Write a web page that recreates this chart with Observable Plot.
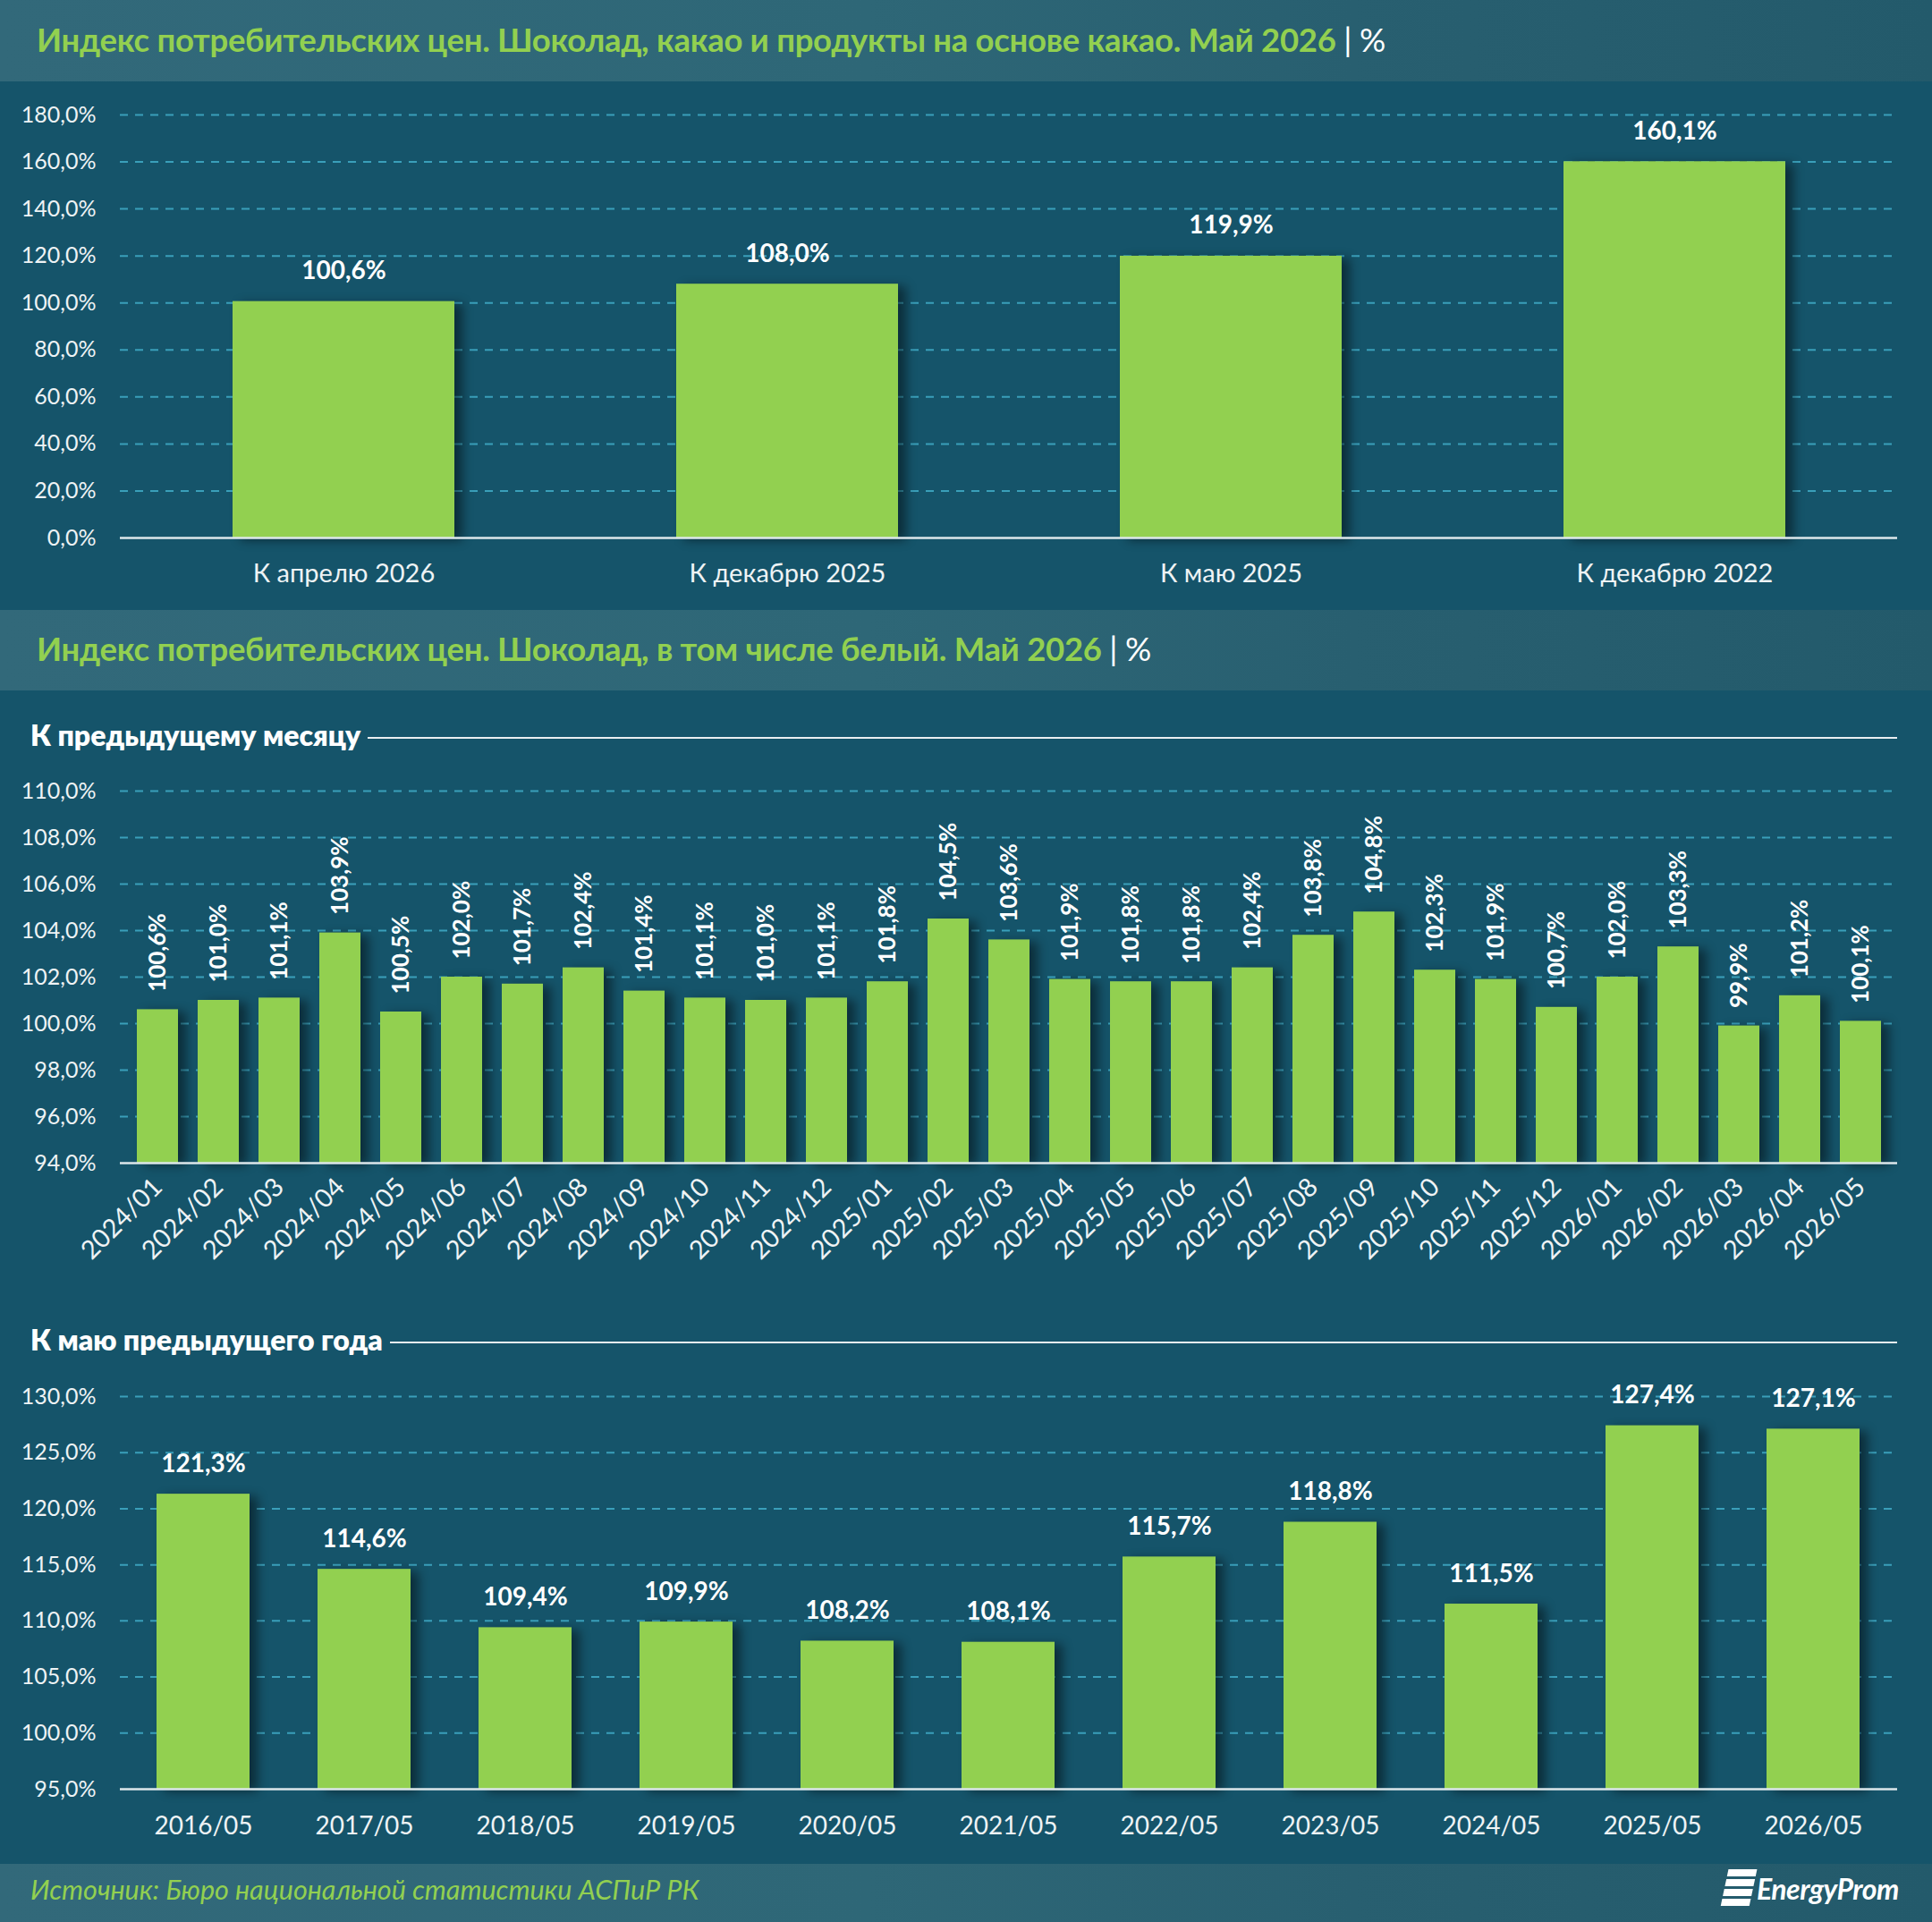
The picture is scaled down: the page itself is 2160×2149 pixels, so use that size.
<!DOCTYPE html>
<html>
<head>
<meta charset="utf-8">
<script src="https://cdn.jsdelivr.net/npm/d3@7"></script>
<script src="https://cdn.jsdelivr.net/npm/@observablehq/plot@0.6"></script>
<style>
  html, body { margin: 0; padding: 0; background: #15546a; }
  #root { position: relative; width: 2160px; height: 2149px; overflow: hidden; background: #15546a; font-family: Lato, "Open Sans", sans-serif; }
  .bar { position: absolute; left: 0; width: 2160px; background: linear-gradient(to right, #32697a 0%, #2e6777 45%, #285f70 70%, #235a6b 100%); }
  .title { position: absolute; left: 41px; font-size: 36.5px; color: #92d050; font-weight: 700; white-space: nowrap; letter-spacing: -0.3px; }
  .title .unit { color: #ffffff; font-weight: 400; }
  .sub { position: absolute; left: 34px; width: 2087px; display: flex; align-items: center; font-size: 32px; font-weight: 800; color: #ffffff; }
  .sub .ln { flex: 1; height: 2px; background: #e8eef0; margin-left: 8px; margin-top: 6px; }
  .chart { position: absolute; left: 0; }
  svg g[aria-label="bar"] { filter: drop-shadow(9px 3px 6px rgba(0,0,0,0.45)); }
  .src { position: absolute; left: 34px; top: 2094px; font-size: 30.5px; color: #92d050; font-style: italic; }
  .logo { position: absolute; left: 1928px; top: 2090px; display: flex; align-items: center; color: #fff; font-style: italic; font-weight: 700; font-size: 32px; letter-spacing: -0.5px; }
  .logo .ic { width: 32px; height: 42px; margin-right: 4px; transform: skewX(-12deg); background: repeating-linear-gradient(to bottom, #fff 0 8px, transparent 8px 11px); }
</style>
</head>
<body>
<div id="root">
  <div class="bar" style="top:0;height:91px"></div>
  <div class="title" style="top:22px">Индекс потребительских цен. Шоколад, какао и продукты на основе какао. Май 2026 <span class="unit">| %</span></div>
  <div id="c1" class="chart" style="top:91px"></div>
  <div class="bar" style="top:682px;height:90px"></div>
  <div class="title" style="top:703px">Индекс потребительских цен. Шоколад, в том числе белый. Май 2026 <span class="unit">| %</span></div>
  <div class="sub" style="top:802px"><span>К предыдущему месяцу</span><span class="ln"></span></div>
  <div id="c2" class="chart" style="top:850px"></div>
  <div class="sub" style="top:1478px"><span>К маю предыдущего года</span><span class="ln"></span></div>
  <div id="c3" class="chart" style="top:1530px"></div>
  <div class="bar" style="top:2084px;height:65px"></div>
  <div class="src">Источник: Бюро национальной статистики АСПиР РК</div>
  <div class="logo"><span class="ic"></span><span>EnergyProm</span></div>
</div>
<script>
// ---- Data ----
const cats1 = ["К апрелю 2026", "К декабрю 2025", "К маю 2025", "К декабрю 2022"];
const vals1 = [100.6, 108.0, 119.9, 160.1];

const months2 = ["2024/01","2024/02","2024/03","2024/04","2024/05","2024/06","2024/07","2024/08","2024/09","2024/10","2024/11","2024/12",
                 "2025/01","2025/02","2025/03","2025/04","2025/05","2025/06","2025/07","2025/08","2025/09","2025/10","2025/11","2025/12",
                 "2026/01","2026/02","2026/03","2026/04","2026/05"];
const vals2 = [100.6,101.0,101.1,103.9,100.5,102.0,101.7,102.4,101.4,101.1,101.0,101.1,
               101.8,104.5,103.6,101.9,101.8,101.8,102.4,103.8,104.8,102.3,101.9,100.7,
               102.0,103.3,99.9,101.2,100.1];

const years3 = ["2016/05","2017/05","2018/05","2019/05","2020/05","2021/05","2022/05","2023/05","2024/05","2025/05","2026/05"];
const vals3 = [121.3,114.6,109.4,109.9,108.2,108.1,115.7,118.8,111.5,127.4,127.1];

const ticks1 = d3.range(0, 181, 20);
const ticks2 = d3.range(94, 110.01, 2);
const ticks3 = d3.range(95, 130.01, 5);

// ---- Helpers ----
const fmt = d => d.toFixed(1).replace(".", ",") + "%";
const GREEN = "#92d050";
const GRID = { stroke: "#3a9fba", strokeDasharray: "9,8", strokeWidth: 2, strokeOpacity: 1 };
const AXIS = { stroke: "#dde7eb", strokeWidth: 2.5 };
const baseStyle = { background: "transparent", color: "#eef3f5", fontFamily: "Lato, 'Open Sans', sans-serif", fontSize: "25px", overflow: "visible" };

const data1 = cats1.map((c, i) => ({ c, v: vals1[i] }));
const data2 = months2.map((c, i) => ({ c, v: vals2[i] }));
const data3 = years3.map((c, i) => ({ c, v: vals3[i] }));

// ---- Chart 1 ----
document.getElementById("c1").append(Plot.plot({
  width: 2160, height: 591,
  marginTop: 37, marginBottom: 81, marginLeft: 134, marginRight: 39,
  style: baseStyle,
  x: { domain: cats1, paddingInner: 0.5, paddingOuter: 0.25, label: null },
  y: { domain: [0, 180], label: null },
  marks: [
    Plot.gridY(ticks1.filter(t => t > 0), GRID),
    Plot.barY(data1, { x: "c", y: "v", fill: GREEN }),
    Plot.ruleY([0], AXIS),
    Plot.axisY(ticks1, { tickFormat: fmt, tickSize: 0, tickPadding: 27, fontSize: 25 }),
    Plot.axisX({ tickSize: 0, tickPadding: 29, fontSize: 29 }),
    Plot.text(data1, { x: "c", y: "v", text: d => fmt(d.v), dy: -34, fill: "#ffffff", fontWeight: "bold", fontSize: 28 })
  ]
}));

// ---- Chart 2 ----
document.getElementById("c2").append(Plot.plot({
  width: 2160, height: 620,
  marginTop: 34, marginBottom: 170, marginLeft: 134, marginRight: 39,
  style: baseStyle,
  x: { domain: months2, paddingInner: 0.33, paddingOuter: 0.165, label: null },
  y: { domain: [94, 110], label: null },
  marks: [
    Plot.gridY(ticks2.filter(t => t > 94), GRID),
    Plot.barY(data2, { x: "c", y1: () => 94, y2: "v", fill: GREEN }),
    Plot.ruleY([94], AXIS),
    Plot.axisY(ticks2, { tickFormat: fmt, tickSize: 0, tickPadding: 27, fontSize: 25 }),
    Plot.axisX({ tickSize: 0, tickPadding: 22, tickRotate: -45, fontSize: 29 }),
    Plot.text(data2, { x: "c", y: "v", text: d => fmt(d.v), rotate: -90, textAnchor: "start", dy: -20, fill: "#ffffff", fontWeight: "bold", fontSize: 26 })
  ]
}));

// ---- Chart 3 ----
document.getElementById("c3").append(Plot.plot({
  width: 2160, height: 554,
  marginTop: 31, marginBottom: 84, marginLeft: 134, marginRight: 39,
  style: baseStyle,
  x: { domain: years3, paddingInner: 0.42, paddingOuter: 0.21, label: null },
  y: { domain: [95, 130], label: null },
  marks: [
    Plot.gridY(ticks3.filter(t => t > 95), GRID),
    Plot.barY(data3, { x: "c", y1: () => 95, y2: "v", fill: GREEN }),
    Plot.ruleY([95], AXIS),
    Plot.axisY(ticks3, { tickFormat: fmt, tickSize: 0, tickPadding: 27, fontSize: 25 }),
    Plot.axisX({ tickSize: 0, tickPadding: 31, fontSize: 28 }),
    Plot.text(data3, { x: "c", y: "v", text: d => fmt(d.v), dy: -34, fill: "#ffffff", fontWeight: "bold", fontSize: 28 })
  ]
}));
</script>
</body>
</html>
